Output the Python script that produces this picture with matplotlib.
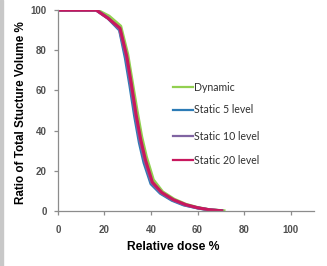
import numpy as np
import matplotlib.pyplot as plt

plt.rcParams['font.family'] = ['Liberation Sans', 'DejaVu Sans']

# DVH-like curves
dose_dyn = [0, 17, 22, 27, 30, 32, 34, 36, 38, 41, 45, 50, 55, 60, 65, 72]
vol_dyn = [100, 100, 97, 92, 78, 64, 50, 37, 27, 15.5, 9.5, 5.8, 3.3, 1.7, 0.6, 0]

dose_s5 = [0, 16.5, 21.5, 26.5, 29, 31, 33, 35, 37, 40, 44, 49, 54, 60, 65, 71]
vol_s5 = [100, 100, 96, 90, 76, 62, 47, 34, 24, 13.5, 8.8, 5.3, 3, 1.5, 0.5, 0]

dose_s10 = [0, 16.5, 21.5, 26.5, 29.3, 31.3, 33.3, 35.3, 37.3, 40.3, 44.3, 49.3, 54.5, 60, 65, 71]
vol_s10 = [100, 100, 96, 90.5, 77, 63, 48, 35, 25, 14, 9, 5.5, 3, 1.5, 0.6, 0]

dose_s20 = [0, 16.5, 21.5, 26.7, 29.6, 31.6, 33.6, 35.6, 37.6, 40.6, 44.6, 49.6, 55, 60, 65, 71]
vol_s20 = [100, 100, 96, 91, 77, 63, 48, 35.5, 25.5, 14.3, 9.2, 5.6, 3.1, 1.6, 0.6, 0]

labels = ['Dynamic', 'Static 5 level', 'Static 10 level', 'Static 20 level']
colors = ['#92D050', '#2C7BB6', '#8064A2', '#C8185E']
series = [(dose_dyn, vol_dyn), (dose_s5, vol_s5), (dose_s10, vol_s10), (dose_s20, vol_s20)]

fig = plt.figure(figsize=(3.27, 2.66), dpi=100)
ax = fig.add_axes([0.177, 0.207, 0.783, 0.755])

for (x, y), c in zip(series, colors):
    ax.plot(x, y, color=c, linewidth=2.2, solid_capstyle='butt')

ax.set_xlim(0, 110)
ax.set_ylim(0, 100)
ax.set_xticks([0, 20, 40, 60, 80, 100])
ax.set_yticks([0, 20, 40, 60, 80, 100])
for s in ['top', 'right']:
    ax.spines[s].set_visible(False)
for s in ['left', 'bottom']:
    ax.spines[s].set_color('#8c8c8c')
    ax.spines[s].set_linewidth(0.9)
ax.tick_params(colors='#8c8c8c', length=3, width=0.9, labelsize=7, labelcolor='#505050')
for lab in ax.get_xticklabels() + ax.get_yticklabels():
    lab.set_fontweight('bold')
ax.tick_params(axis='x', pad=7)
ax.tick_params(axis='y', pad=5)

ax.set_xlabel('Relative dose %', fontsize=8.7, fontweight='bold')
ax.set_ylabel('Ratio of Total Stucture Volume %', fontsize=8.4, fontweight='bold')
ax.xaxis.set_label_coords(0.45, -0.15)
ax.yaxis.set_label_coords(-0.12, 0.49)

# legend built by hand to match the spacing
leg_y = [87, 110, 136, 160]
for lbl, c, py in zip(labels, colors, leg_y):
    yf = 1 - py / 266
    fig.add_artist(plt.Line2D([173 / 327, 193 / 327], [yf, yf], color=c, linewidth=1.6))
    fig.text(194 / 327, yf, lbl, fontsize=7.6, family=['Lato', 'DejaVu Sans'],
             color='#303030', va='center', ha='left')

# gray strip on left edge of the image
fig.add_artist(plt.Rectangle((0, 0), 3 / 327, 1, color='#c8c8c8', transform=fig.transFigure))

fig.savefig('out.png', dpi=100)
